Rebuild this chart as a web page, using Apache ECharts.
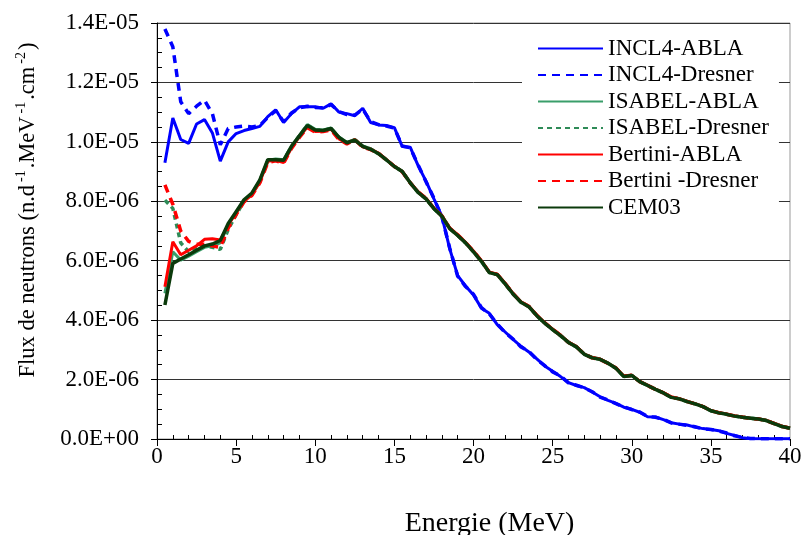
<!DOCTYPE html>
<html><head><meta charset="utf-8">
<script src="https://cdn.jsdelivr.net/npm/echarts@6/dist/echarts.min.js"></script>
<style>html,body{margin:0;padding:0;background:#fff}#c{width:804px;height:535px}</style>
</head><body><div id="c"></div>
<script>
// Energy (MeV)
const energies = [0.5,1,1.5,2,2.5,3,3.5,4,4.5,5,
 5.5,6,6.5,7,7.5,8,8.5,9,9.5,10,
 10.5,11,11.5,12,12.5,13,13.5,14,14.5,15,
 15.5,16,16.5,17,17.5,18,18.5,19,19.5,20,
 20.5,21,21.5,22,22.5,23,23.5,24,24.5,25,
 25.5,26,26.5,27,27.5,28,28.5,29,29.5,30,
 30.5,31,31.5,32,32.5,33,33.5,34,34.5,35,
 35.5,36,36.5,37,37.5,38,38.5,39,39.5,40];

const seriesNames = ['INCL4-ABLA','INCL4-Dresner','ISABEL-ABLA','ISABEL-Dresner','Bertini-ABLA','Bertini -Dresner','CEM03'];

// Flux values in units of 1e-6 n.d-1.MeV-1.cm-2
const incl4Abla = [9.3,10.8,10.08,9.95,10.6,10.75,10.3,9.35,10.0,10.28,
 10.38,10.45,10.52,10.85,11.08,10.65,10.95,11.18,11.18,11.18,
 11.13,11.28,11.0,10.95,10.88,11.13,10.65,10.57,10.55,10.48,
 9.84,9.82,9.2,8.68,8.08,7.5,6.4,5.5,5.15,4.85,
 4.4,4.23,3.85,3.6,3.35,3.12,2.93,2.7,2.46,2.28,
 2.1,1.9,1.8,1.73,1.58,1.42,1.3,1.2,1.07,1.0,
 0.9,0.75,0.74,0.65,0.55,0.5,0.47,0.4,0.35,0.32,
 0.28,0.19,0.12,0.04,0.01,0.01,0.01,0.01,0.01,0.01];
const incl4Dresner = [13.8,13.2,11.35,10.95,11.2,11.4,10.95,9.9,10.45,10.5,
 10.53,10.5,10.55,10.82,11.05,10.68,10.97,11.15,11.2,11.16,
 11.15,11.25,11.02,10.92,10.9,11.1,10.68,10.58,10.53,10.46,
 9.86,9.8,9.22,8.66,8.1,7.48,6.42,5.48,5.13,4.87,
 4.42,4.21,3.87,3.58,3.36,3.1,2.95,2.68,2.47,2.26,
 2.12,1.89,1.81,1.72,1.59,1.41,1.31,1.19,1.08,0.99,
 0.91,0.76,0.73,0.66,0.54,0.5,0.46,0.41,0.34,0.32,
 0.27,0.2,0.11,0.05,0.02,0.01,0.01,0.01,0.01,0.01];
const isabelAbla = [4.9,6.3,6.02,6.15,6.3,6.45,6.5,6.6,7.22,7.62,
 8.04,8.27,8.7,9.38,9.42,9.4,9.86,10.22,10.58,10.42,
 10.4,10.47,10.16,9.98,10.08,9.86,9.77,9.61,9.4,9.18,
 9.01,8.63,8.31,8.09,7.76,7.51,7.09,6.86,6.61,6.31,
 5.99,5.61,5.54,5.23,4.89,4.61,4.46,4.16,3.91,3.69,
 3.49,3.26,3.11,2.86,2.75,2.69,2.56,2.39,2.11,2.15,
 1.94,1.81,1.68,1.56,1.41,1.36,1.27,1.19,1.1,0.96,
 0.89,0.84,0.78,0.74,0.71,0.68,0.63,0.53,0.43,0.37];
const isabelDresner = [8.04,7.76,6.6,6.3,6.4,6.5,6.45,6.38,7.05,7.55,
 8.0,8.24,8.68,9.36,9.4,9.37,9.84,10.2,10.56,10.4,
 10.38,10.45,10.14,9.96,10.07,9.85,9.76,9.6,9.39,9.17,
 9.0,8.62,8.3,8.08,7.75,7.5,7.08,6.85,6.6,6.3,
 5.98,5.6,5.53,5.22,4.88,4.6,4.45,4.15,3.9,3.68,
 3.48,3.25,3.1,2.86,2.74,2.68,2.55,2.38,2.1,2.14,
 1.93,1.8,1.67,1.55,1.4,1.35,1.26,1.18,1.09,0.95,
 0.88,0.83,0.77,0.73,0.7,0.67,0.62,0.52,0.42,0.36];
const bertiniAbla = [5.12,6.64,6.2,6.35,6.5,6.72,6.74,6.7,7.2,7.62,
 8.0,8.22,8.65,9.35,9.38,9.3,9.8,10.18,10.5,10.35,
 10.36,10.42,10.1,9.95,10.08,9.83,9.75,9.62,9.4,9.18,
 9.0,8.63,8.32,8.1,7.77,7.52,7.1,6.88,6.62,6.33,
 6.0,5.62,5.55,5.24,4.9,4.62,4.47,4.17,3.92,3.7,
 3.5,3.26,3.12,2.86,2.74,2.69,2.55,2.4,2.12,2.15,
 1.94,1.81,1.68,1.56,1.42,1.36,1.27,1.19,1.1,0.96,
 0.89,0.84,0.78,0.74,0.7,0.67,0.63,0.53,0.43,0.37];
const bertiniDresner = [8.55,7.9,7.0,6.65,6.55,6.55,6.5,6.45,7.1,7.55,
 7.98,8.2,8.62,9.3,9.36,9.28,9.78,10.15,10.48,10.33,
 10.35,10.4,10.08,9.93,10.07,9.82,9.74,9.61,9.39,9.17,
 8.99,8.62,8.31,8.1,7.76,7.51,7.09,6.87,6.61,6.32,
 5.99,5.61,5.54,5.23,4.89,4.61,4.46,4.16,3.91,3.69,
 3.49,3.25,3.11,2.85,2.73,2.68,2.54,2.39,2.11,2.14,
 1.93,1.8,1.67,1.55,1.41,1.35,1.26,1.18,1.09,0.95,
 0.88,0.83,0.77,0.73,0.7,0.67,0.62,0.52,0.42,0.36];
const cem03 = [4.51,5.91,6.06,6.2,6.35,6.5,6.56,6.68,7.25,7.65,
 8.05,8.28,8.72,9.4,9.4,9.38,9.85,10.2,10.55,10.4,
 10.38,10.45,10.15,9.97,10.06,9.85,9.75,9.6,9.39,9.17,
 9.0,8.62,8.3,8.08,7.75,7.5,7.08,6.85,6.6,6.3,
 5.98,5.6,5.53,5.22,4.88,4.6,4.45,4.15,3.9,3.68,
 3.48,3.25,3.1,2.85,2.73,2.68,2.55,2.38,2.1,2.14,
 1.93,1.8,1.67,1.55,1.4,1.35,1.26,1.18,1.09,0.95,
 0.88,0.83,0.77,0.73,0.7,0.67,0.62,0.52,0.42,0.36];

const yTickLabels = ['0.0E+00','2.0E-06','4.0E-06','6.0E-06','8.0E-06','1.0E-05','1.2E-05','1.4E-05'];
const xTickLabels = ['0','5','10','15','20','25','30','35','40'];

const FONT = 'Liberation Serif';
const seriesValues = [incl4Abla, incl4Dresner, isabelAbla, isabelDresner, bertiniAbla, bertiniDresner, cem03];
const styles = [
  {color:'#0000ff', width:3, type:'solid'},
  {color:'#0000ff', width:3.5, type:[8,6]},
  {color:'#3a9e6a', width:3, type:'solid'},
  {color:'#2e8b57', width:3.5, type:[5,4]},
  {color:'#ff0000', width:3, type:'solid'},
  {color:'#ff0000', width:3.5, type:[8,6]},
  {color:'#0b3a0b', width:3.5, type:'solid'}
];

const series = seriesNames.map((name, k) => ({
  name: name,
  type: 'line',
  symbol: 'none',
  smooth: false,
  animation: false,
  data: energies.map((e, i) => [e, seriesValues[k][i]]),
  lineStyle: {color: styles[k].color, width: styles[k].width, type: styles[k].type},
  itemStyle: {color: styles[k].color}
}));

const chart = echarts.init(document.getElementById('c'), null, {renderer: 'canvas'});
chart.setOption({
  backgroundColor: '#fff',
  animation: false,
  grid: {left: 157, right: 14, top: 23, bottom: 96, show: true, borderColor: '#999', borderWidth: 1,
    backgroundColor: 'transparent', containLabel: false, outerBoundsMode: 'none'},
  legend: {
    orient: 'vertical', left: 522, top: 30,
    padding: [7, 10, 7, 15],
    backgroundColor: '#fff',
    itemWidth: 65, itemHeight: 12, itemGap: 3.5,
    selectedMode: false,
    itemStyle: {opacity: 0},
    textStyle: {fontFamily: FONT, fontSize: 23, color: '#000'},
    data: seriesNames
  },
  xAxis: {
    type: 'value', min: 0, max: 40, interval: 5,
    name: 'Energie (MeV)', nameLocation: 'middle', nameGap: 71,
    nameTextStyle: {fontFamily: FONT, fontSize: 28, color: '#000', padding: [0, 0, 0, 32]},
    axisLine: {show: true, lineStyle: {color: '#000', width: 1}},
    axisTick: {show: true, length: 7, lineStyle: {color: '#000'}},
    minorTick: {show: true, splitNumber: 5, length: -4, lineStyle: {color: '#000'}},
    splitLine: {show: false},
    axisLabel: {fontFamily: FONT, fontSize: 23, color: '#000', margin: 6,
      formatter: v => xTickLabels[Math.round(v / 5)]}
  },
  yAxis: {
    type: 'value', min: 0, max: 14, interval: 2,
    name: '{a|Flux de neutrons (n.d}{s|-1}{a|.MeV}{s|-1}{a|.cm}{s|-2}{a|)}',
    nameLocation: 'middle', nameGap: 117,
    nameTextStyle: {
      padding: [0, 0, 0, 42],
      rich: {
        a: {fontFamily: FONT, fontSize: 22.5, color: '#000', lineHeight: 26, verticalAlign: 'bottom'},
        s: {fontFamily: FONT, fontSize: 14, color: '#000', lineHeight: 26, verticalAlign: 'top', padding: [0, 2, 0, 3]}
      }
    },
    axisLine: {show: true, lineStyle: {color: '#000', width: 1}},
    axisTick: {show: true, length: 6, lineStyle: {color: '#000'}},
    minorTick: {show: true, splitNumber: 4, length: -5, lineStyle: {color: '#000'}},
    splitLine: {show: true, lineStyle: {color: '#333', width: 1}},
    axisLabel: {fontFamily: FONT, fontSize: 23, color: '#000', margin: 18,
      formatter: v => yTickLabels[Math.round(v / 2)]}
  },
  series: series
});
</script>
</body></html>
